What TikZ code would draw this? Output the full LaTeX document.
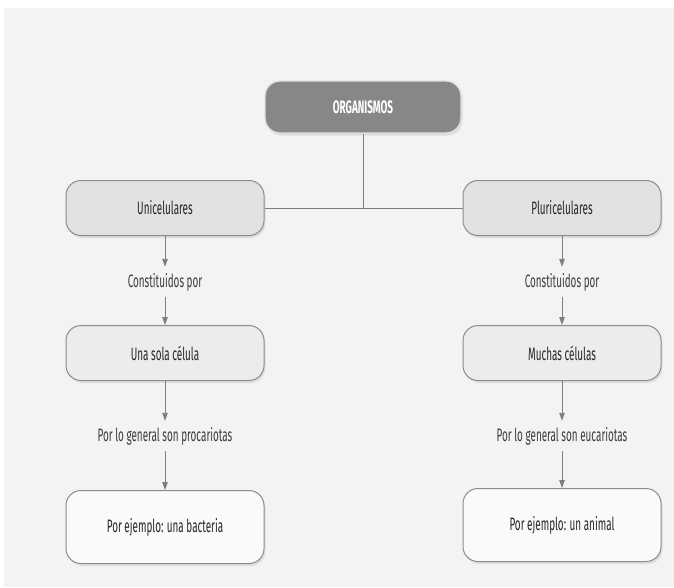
\documentclass[tikz,border=0pt]{standalone}
\usepackage{fontspec}
\setmainfont{Fira Sans}[FakeStretch=0.55]
\usepackage{tikz}
\usetikzlibrary{positioning,arrows.meta,shadows}
\definecolor{paper}{HTML}{F3F3F3}
\definecolor{ink}{HTML}{262626}
\definecolor{edge}{HTML}{8C8C8C}
\definecolor{lid}{HTML}{878787}
\definecolor{pale}{HTML}{E2E2E2}
\definecolor{soft}{HTML}{ECECEC}

\begin{document}
\begin{tikzpicture}[
  x=1pt, y=-1pt,
  font=\fontsize{18}{20}\selectfont, text=ink,
  % common box look, the fill is set per tier
  box/.style   = {draw=edge, line width=1pt, rounded corners=15pt, align=center,
                  minimum width=198pt, minimum height=55pt,
                  drop shadow={opacity=0.18, shadow xshift=1.5pt, shadow yshift=-2.5pt}},
  head/.style  = {box, fill=lid, draw=white!75!lid, line width=1.3pt,
                  minimum width=196pt, minimum height=52pt, text=white,
                  font=\fontsize{18}{20}\selectfont\bfseries},
  kind/.style  = {box, fill=pale},
  cell/.style  = {box, fill=soft},
  case/.style  = {box, fill=white!60!paper, minimum height=73pt},
  note/.style  = {inner sep=0pt, minimum height=30pt, text=ink!90},
  link/.style  = {draw=edge!90!black, line width=0.9pt},
  hop/.style   = {link, -{Triangle[length=8pt,width=5.5pt]}},
]

% ------------------------------------------------------------- background --
\fill[white] (0,0) rectangle (674,587);
\fill[paper] (4,8) rectangle (674,587);

% -------------------------------------------------------------------- top --
\node[head] (org) at (363,107) {ORGANISMOS};

% ------------------------------------------------------------ left column --
\node[kind] (uni)   at (165,208) {Unicelulares};
\node[note] (uniby) at (165,282) {Constituidos por};
\node[cell] (one)   at (165,353) {Una sola célula};
\node[note] (pro)   at (165,436) {Por lo general son procariotas};
\node[case] (bact)  at (165,527) {Por ejemplo: una bacteria};

% ----------------------------------------------------------- right column --
\node[kind] (pluri)   at (562,208) {Pluricelulares};
\node[note] (pluriby) at (562,282) {Constituidos por};
\node[cell] (many)    at (562,353) {Muchas células};
\node[note] (euk)     at (562,436) {Por lo general son eucariotas};
\node[case] (anim)    at (562,525) {Por ejemplo: un animal};

% ------------------------------------------------------------ connectors --
\coordinate (fork) at (org |- uni.east);
\draw[link] (org) -- (fork);
\draw[link] (uni) -- (pluri);

\draw[hop] (uni)     -- (uniby);
\draw[hop] (uniby)   -- (one);
\draw[hop] (one)     -- (pro);
\draw[hop] (pro)     -- (bact);

\draw[hop] (pluri)   -- (pluriby);
\draw[hop] (pluriby) -- (many);
\draw[hop] (many)    -- (euk);
\draw[hop] (euk)     -- (anim);

\end{tikzpicture}
\end{document}
